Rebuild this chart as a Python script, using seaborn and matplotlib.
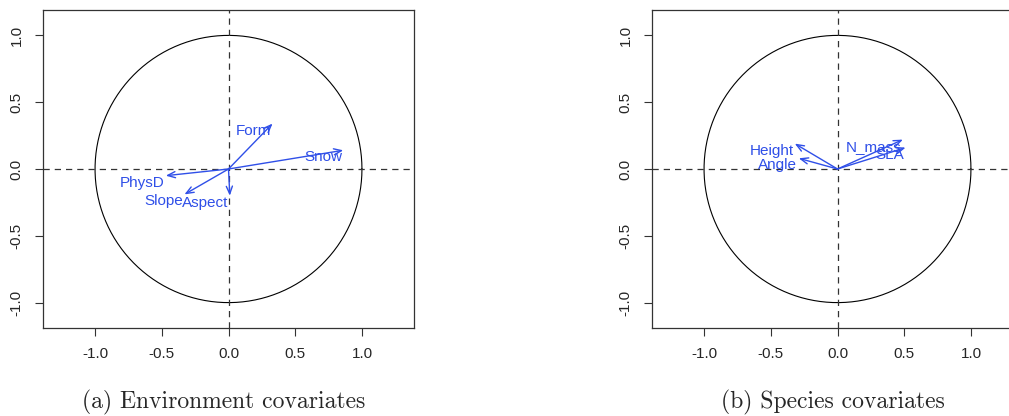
import numpy as np
import matplotlib
matplotlib.use("Agg")
import matplotlib.pyplot as plt
import seaborn as sns

# arrow tips (correlation circle coordinates)
env_labels = ["Form", "Snow", "PhysD", "Slope", "Aspect"]
env_x = [0.33, 0.86, -0.47, -0.33, 0.01]
env_y = [0.34, 0.14, -0.05, -0.19, -0.20]

sp_labels = ["Height", "Angle", "N_mass", "SLA"]
sp_x = [-0.32, -0.29, 0.49, 0.51]
sp_y = [0.19, 0.08, 0.22, 0.16]

ticks = [-1.0, -0.5, 0.0, 0.5, 1.0]
tick_labels = ["-1.0", "-0.5", "0.0", "0.5", "1.0"]
captions = ["(a) Environment covariates", "(b) Species covariates"]

sns.set_style("white")
plt.rcParams["font.family"] = ["Liberation Sans", "DejaVu Sans"]

blue = "#2f4fe8"
W, H = 1009, 416
fig = plt.figure(figsize=(W / 100, H / 100), dpi=100)

def corr_circle(ax, xs, ys, labels):
    theta = np.linspace(0, 2 * np.pi, 400)
    sns.lineplot(x=np.cos(theta), y=np.sin(theta), sort=False, estimator=None,
                 ax=ax, color="black", lw=0.8)
    ax.axhline(0, color="#333333", lw=0.9, ls=(0, (5, 4)))
    ax.axvline(0, color="#333333", lw=0.9, ls=(0, (5, 4)))
    for x, y, lab in zip(xs, ys, labels):
        ax.annotate("", xy=(x, y), xytext=(0, 0),
                    arrowprops=dict(arrowstyle="->,head_length=0.55,head_width=0.22",
                                    color=blue, lw=1.0, shrinkA=0, shrinkB=0))
        ax.annotate(lab, xy=(x, y), xytext=(-1, -5), textcoords="offset points",
                    ha="right", va="center", color=blue, fontsize=11)
    ax.set_xlim(-1.39, 1.39)
    ax.set_ylim(-1.19, 1.19)
    ax.set_xticks(ticks)
    ax.set_xticklabels(tick_labels)
    ax.set_yticks(ticks)
    ax.set_yticklabels(tick_labels, rotation=90, va="center")
    ax.tick_params(axis="both", direction="out", length=6, width=0.8,
                   labelsize=11, color="#333333", pad=8,
                   bottom=True, left=True)
    for s in ax.spines.values():
        s.set_color("#333333")
        s.set_linewidth(0.9)
    ax.set_xlabel("")
    ax.set_ylabel("")

ax1 = fig.add_axes([43 / W, 88 / H, 371 / W, 318 / H])
corr_circle(ax1, env_x, env_y, env_labels)
ax2 = fig.add_axes([652 / W, 88 / H, 371 / W, 318 / H])
corr_circle(ax2, sp_x, sp_y, sp_labels)

fig.text(224 / W, 1 - 402 / H, captions[0], ha="center", va="center",
         family=["cmr10", "DejaVu Serif"], fontsize=17)
fig.text(833 / W, 1 - 402 / H, captions[1], ha="center", va="center",
         family=["cmr10", "DejaVu Serif"], fontsize=17)

fig.savefig("out.png", dpi=100)
